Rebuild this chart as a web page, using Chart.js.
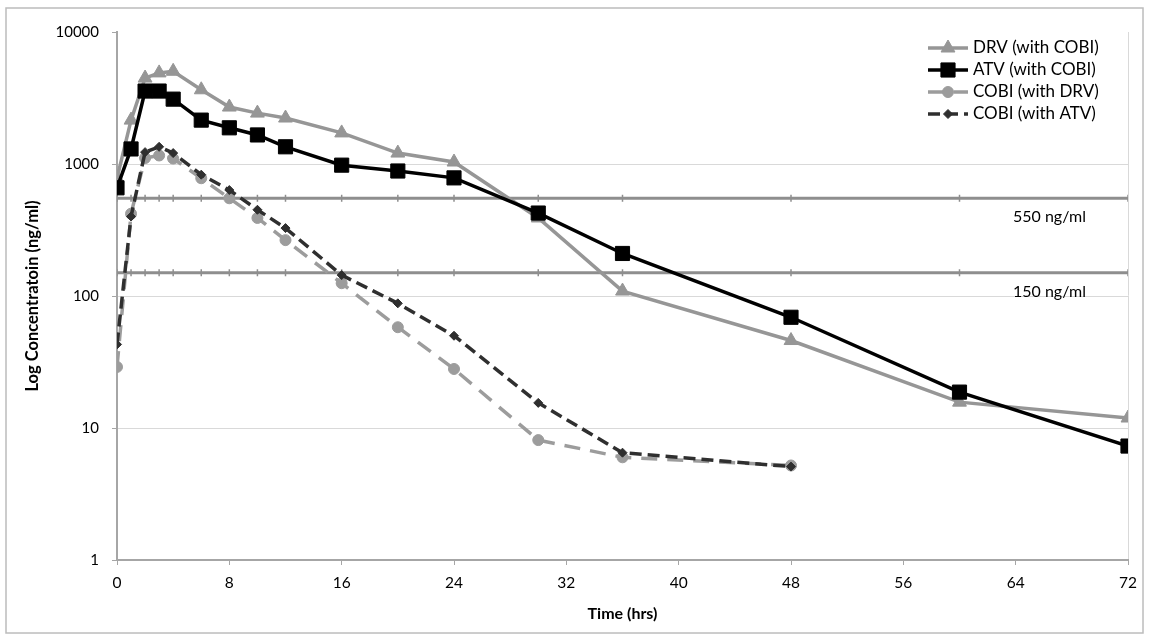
<!DOCTYPE html>
<html>
<head>
<meta charset="utf-8">
<title>Log Concentration vs Time</title>
<script src="https://cdn.jsdelivr.net/npm/chart.js@4.4.0/dist/chart.umd.min.js"></script>
<style>
  html, body { margin: 0; padding: 0; background: #fff; }
  #wrap { width: 1149px; height: 640px; position: relative; }
</style>
</head>
<body>
<div id="wrap"><canvas id="pkChart"></canvas></div>
<script>
// sampling times (hrs)
const hoursLong = [0, 1, 2, 3, 4, 6, 8, 10, 12, 16, 20, 24, 30, 36, 48, 60, 72];
const hoursShort = [0, 1, 2, 3, 4, 6, 8, 10, 12, 16, 20, 24, 30, 36, 48];

// concentrations (ng/ml)
const drvWithCobi = [780, 2150, 4480, 4900, 5040, 3650, 2700, 2430, 2230, 1720, 1210, 1035, 390, 109, 46, 15.7, 11.9];
const atvWithCobi = [660, 1300, 3570, 3570, 3100, 2150, 1880, 1660, 1350, 980, 885, 785, 425, 210, 69, 18.7, 7.3];
const cobiWithDrv = [29, 420, 1110, 1160, 1100, 780, 550, 390, 265, 125, 58, 28, 8.1, 6.0, 5.2];
const cobiWithAtv = [43, 400, 1230, 1350, 1210, 830, 635, 450, 327, 144, 88, 50, 15.5, 6.5, 5.1];

const thresholds = [550, 150];
const yTicks = [1, 10, 100, 1000, 10000];
const xTicks = [0, 8, 16, 24, 32, 40, 48, 56, 64, 72];

const FONT = 'Lato, "Liberation Sans", sans-serif';

function pts(xs, ys) {
  return xs.map((x, i) => ({ x: x, y: ys[i] }));
}

function series(label, xs, ys, color, style) {
  return Object.assign({
    label: label,
    data: pts(xs, ys),
    borderColor: color,
    backgroundColor: color,
    pointBackgroundColor: color,
    pointBorderColor: color,
    pointBorderWidth: 1,
    borderWidth: 3.5,
    tension: 0,
    fill: false
  }, style);
}

const datasets = [
  series('DRV (with COBI)', hoursLong, drvWithCobi, '#969696', { pointStyle: 'triangle', pointRadius: 8, order: 4 }),
  series('ATV (with COBI)', hoursLong, atvWithCobi, '#000000', { pointStyle: 'rect', pointRadius: 10, order: 3 }),
  series('COBI (with DRV)', hoursShort, cobiWithDrv, '#9c9c9c', { pointStyle: 'circle', pointRadius: 5.5, borderDash: [16, 10], order: 2 }),
  series('COBI (with ATV)', hoursShort, cobiWithAtv, '#2f2f2f', { pointStyle: 'rectRot', pointRadius: 4.5, borderDash: [12, 6], order: 1 })
];

// horizontal target lines
thresholds.forEach(v => {
  datasets.push({
    label: '',
    data: hoursLong.map(h => ({ x: h, y: v })),
    borderColor: '#8e8e8e',
    borderWidth: 3,
    pointStyle: 'line',
    rotation: 90,
    pointRadius: 3.5,
    pointBorderWidth: 1.5,
    pointBorderColor: '#8e8e8e',
    order: 10
  });
});

// outer frame of the figure
const frame = {
  id: 'frame',
  beforeDraw(chart) {
    const { ctx } = chart;
    ctx.save();
    ctx.strokeStyle = '#bcbcbc';
    ctx.lineWidth = 1.5;
    ctx.strokeRect(6, 8, 1137, 625);
    ctx.restore();
  }
};

// "550 ng/ml" / "150 ng/ml" captions under the target lines
const refLabels = {
  id: 'refLabels',
  afterDatasetsDraw(chart) {
    const { ctx, scales: { y } } = chart;
    ctx.save();
    ctx.font = '16px ' + FONT;
    ctx.fillStyle = '#000';
    ctx.textAlign = 'left';
    ctx.textBaseline = 'middle';
    thresholds.forEach(v => {
      ctx.fillText(v + ' ng/ml', 1013, y.getPixelForValue(v) + 19);
    });
    ctx.restore();
  }
};

// legend with line sample + marker, inside the plot at top right
const sideLegend = {
  id: 'sideLegend',
  afterDraw(chart) {
    const { ctx } = chart;
    const x0 = 928, len = 40, top = 48, rowH = 22;
    ctx.save();
    ctx.font = '17px ' + FONT;
    ctx.textBaseline = 'middle';
    ctx.textAlign = 'left';
    chart.data.datasets.filter(ds => ds.label).forEach((ds, i) => {
      const yy = top + i * rowH;
      ctx.strokeStyle = ds.borderColor;
      ctx.lineWidth = ds.borderWidth;
      ctx.setLineDash(ds.borderDash || []);
      ctx.beginPath();
      ctx.moveTo(x0, yy);
      ctx.lineTo(x0 + len, yy);
      ctx.stroke();
      ctx.setLineDash([]);
      ctx.fillStyle = ds.pointBackgroundColor;
      ctx.strokeStyle = ds.pointBorderColor;
      ctx.lineWidth = ds.pointBorderWidth;
      Chart.helpers.drawPoint(ctx, {
        pointStyle: ds.pointStyle, rotation: 0,
        radius: ds.pointRadius, borderWidth: ds.pointBorderWidth
      }, x0 + len / 2, yy);
      ctx.fillStyle = '#000';
      ctx.fillText(ds.label, x0 + len + 5, yy);
    });
    ctx.restore();
  }
};

new Chart(document.getElementById('pkChart'), {
  type: 'line',
  data: { datasets: datasets },
  options: {
    responsive: true,
    maintainAspectRatio: false,
    animation: false,
    devicePixelRatio: 1,
    layout: { padding: { top: 32, right: 21, bottom: 0, left: 0 } },
    plugins: {
      legend: { display: false },
      tooltip: { enabled: false }
    },
    scales: {
      x: {
        type: 'linear',
        min: 0,
        max: 72,
        afterFit: s => { s.height = 80; },
        afterBuildTicks: s => { s.ticks = xTicks.map(v => ({ value: v })); },
        grid: {
          color: c => (c.tick && c.tick.value === 72 ? '#d9d9d9' : 'rgba(0,0,0,0)'),
          tickColor: '#a6a6a6',
          tickLength: 5
        },
        border: { color: '#a6a6a6', width: 2 },
        ticks: { color: '#000', padding: 9, maxRotation: 0, font: { family: FONT, size: 15.5 } },
        title: {
          display: true,
          text: 'Time (hrs)',
          color: '#000',
          padding: { top: 0, bottom: 17 },
          font: { family: FONT, size: 16, weight: 'bold' }
        }
      },
      y: {
        type: 'logarithmic',
        min: 1,
        max: 10000,
        afterFit: s => { s.width = 117; },
        afterBuildTicks: s => { s.ticks = yTicks.map(v => ({ value: v })); },
        grid: {
          color: c => (c.tick && c.tick.value === 10000 ? 'rgba(0,0,0,0)' : '#d9d9d9'),
          tickColor: '#a6a6a6',
          tickLength: 5
        },
        border: { color: '#a6a6a6', width: 2 },
        ticks: {
          color: '#000',
          padding: 13,
          font: { family: FONT, size: 15 },
          callback: v => String(v)
        },
        title: {
          display: true,
          text: 'Log Concentratoin (ng/ml)',
          color: '#000',
          padding: { top: 23, bottom: 0 },
          font: { family: FONT, size: 16.5, weight: 'bold' }
        }
      }
    }
  },
  plugins: [frame, refLabels, sideLegend]
});
</script>
</body>
</html>
